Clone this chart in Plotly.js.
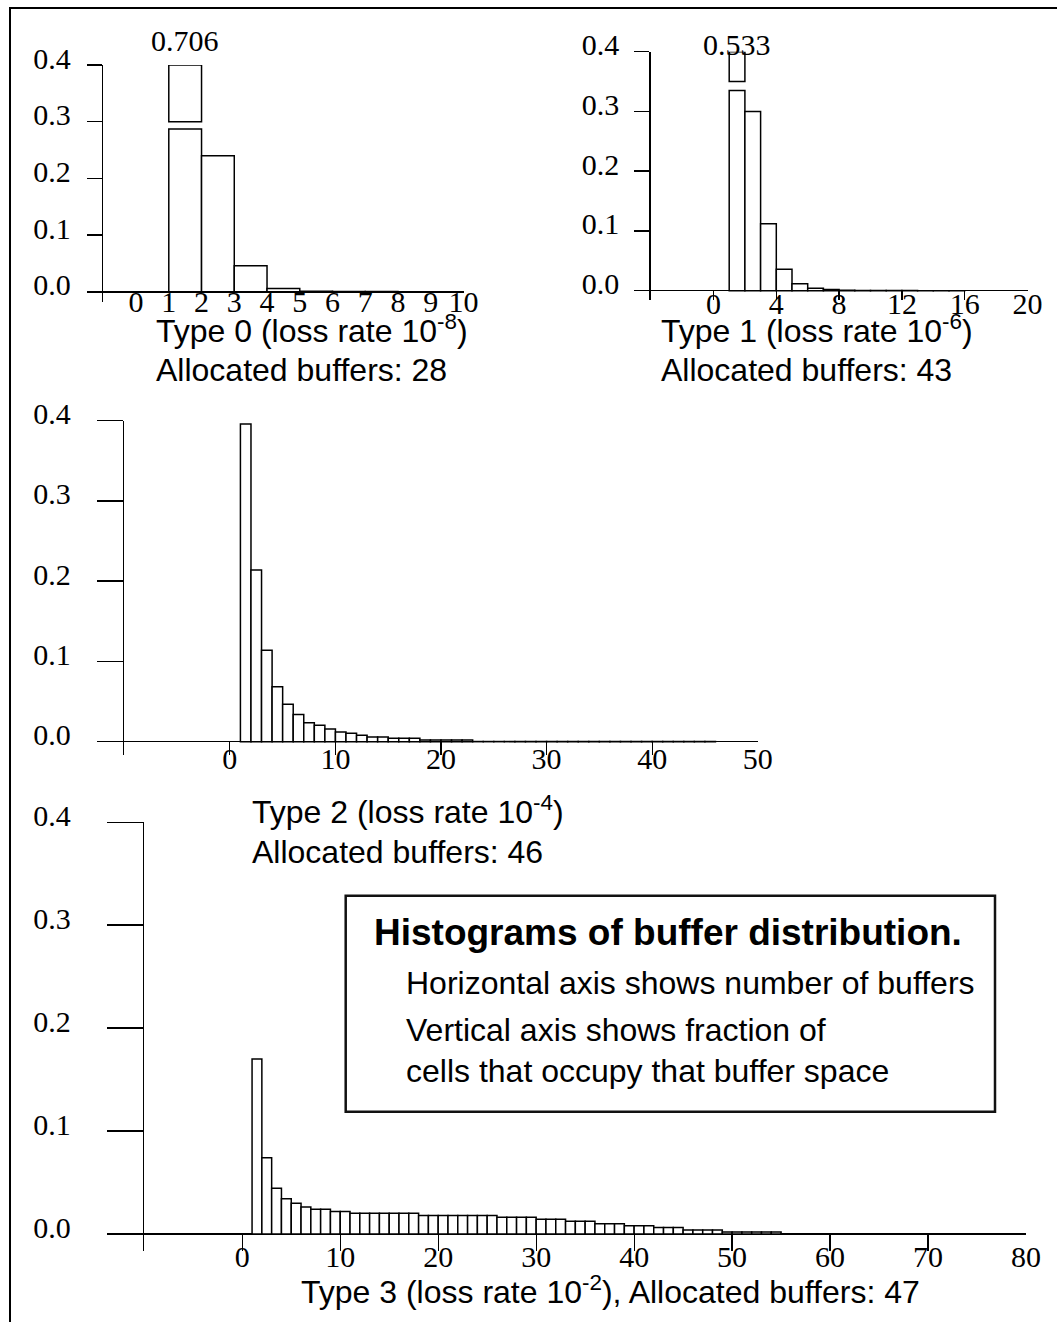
<!DOCTYPE html>
<html><head><meta charset="utf-8">
<script src="https://cdn.plot.ly/plotly-3.0.1.min.js"></script>
<style>html,body{margin:0;padding:0;background:#fff}#chart{width:1057px;height:1322px}</style>
</head><body><div id="chart"></div>
<script>
// ---------------- data ----------------
const type0Buffers = [1, 2, 3, 4, 5, 6, 7, 8, 9];
const type0Fraction = [0.706, 0.240, 0.046, 0.006, 0.001, 0.0005, 0.0003, 0.0001, 0.0001];

const type1Buffers = [1, 2, 3, 4, 5, 6, 7, 8, 9, 10, 11, 12, 13, 14, 15];
const type1Fraction = [0.533, 0.300, 0.112, 0.036, 0.0117, 0.004, 0.002, 0.0008, 0.0005, 0.0003, 0.0002, 0.0002, 0.0001, 0.0001, 0.0001];

const type2Buffers = [1, 2, 3, 4, 5, 6, 7, 8, 9, 10, 11, 12, 13, 14, 15, 16, 17, 18, 19, 20, 21, 22, 23, 24, 25, 26, 27, 28, 29, 30, 31, 32, 33, 34, 35, 36, 37, 38, 39, 40, 41, 42, 43, 44, 45];
const type2Fraction = [0.396, 0.214, 0.114, 0.0685, 0.0466, 0.034, 0.0237, 0.0204, 0.0158, 0.0121, 0.0104, 0.008, 0.0059, 0.0059, 0.0042, 0.0042, 0.0042, 0.002, 0.002, 0.002, 0.002, 0.002, 0.0002, 0.0002, 0.0002, 0.0002, 0.0002, 0.0002, 0.0002, 0.0002, 0.0002, 0.0002, 0.0002, 0.0002, 0.0002, 0.0002, 0.0002, 0.0002, 0.0002, 0.0002, 0.0002, 0.0002, 0.0002, 0.0002, 0.0002];

const type3Buffers = [1, 2, 3, 4, 5, 6, 7, 8, 9, 10, 11, 12, 13, 14, 15, 16, 17, 18, 19, 20, 21, 22, 23, 24, 25, 26, 27, 28, 29, 30, 31, 32, 33, 34, 35, 36, 37, 38, 39, 40, 41, 42, 43, 44, 45, 46, 47, 48, 49, 50, 51, 52, 53, 54, 55, 56, 57, 58, 59, 60, 61, 62, 63, 64, 65, 66, 67, 68, 69, 70, 71, 72];
const type3Fraction = [0.170, 0.0742, 0.0444, 0.0343, 0.0298, 0.0262, 0.024, 0.024, 0.022, 0.022,
  0.0201, 0.0201, 0.0201, 0.0201, 0.0201, 0.0201, 0.0201,
  0.0181, 0.0181, 0.0181, 0.0181, 0.0181, 0.0181, 0.0181, 0.0181,
  0.0162, 0.0162, 0.0162, 0.0162,
  0.0143, 0.0143, 0.0143,
  0.0125, 0.0125, 0.0125,
  0.010, 0.010, 0.010,
  0.0081, 0.0081, 0.0081,
  0.0063, 0.0063, 0.0063,
  0.004, 0.004, 0.004, 0.004,
  0.0019, 0.0019, 0.0019, 0.0019, 0.0019, 0.0019,
  0.0003, 0.0003, 0.0003, 0.0003, 0.0003, 0.0003, 0.0003, 0.0003, 0.0003, 0.0003, 0.0003, 0.0003, 0.0003, 0.0003, 0.0003, 0.0003, 0.0003, 0.0003];

const type0Ticks = [0, 1, 2, 3, 4, 5, 6, 7, 8, 9, 10];
const type1Ticks = [0, 4, 8, 12, 16, 20];
const type2Ticks = [0, 10, 20, 30, 40, 50];
const type3Ticks = [0, 10, 20, 30, 40, 50, 60, 70, 80];
const yTicks = [0, 0.1, 0.2, 0.3, 0.4];
const yTickLabels = ["0.0", "0.1", "0.2", "0.3", "0.4"];

const captionType0 = ["Type 0 (loss rate 10<sup>-8</sup>)", "Allocated buffers: 28"];
const captionType1 = ["Type 1 (loss rate 10<sup>-6</sup>)", "Allocated buffers: 43"];
const captionType2 = ["Type 2 (loss rate 10<sup>-4</sup>)", "Allocated buffers: 46"];
const captionType3 = ["Type 3 (loss rate 10<sup>-2</sup>), Allocated buffers: 47"];
const legendTitle = "Histograms of buffer distribution.";
const legendLines = ["Horizontal axis shows number of buffers", "Vertical axis shows fraction of", "cells that occupy that buffer space"];

// ---------------- layout helpers ----------------
const W = 1057, H = 1322;
const px = v => v / W;
const py = v => 1 - v / H;
const SERIF = "Liberation Serif, Times New Roman, serif";
const SANS = "Liberation Sans, Arial, sans-serif";
const YMAX = 0.4;

const panels = [
  {buf: type0Buffers, frac: type0Fraction, ticks: type0Ticks, xr: [-1, 10], xd: [103.3, 463.5], ymin: -0.018, yd: [65, 302],
   ytick: 15, ystand: 10, xticks: '', xticklen: 0, xstand: -21, brk: [0.287, 0.3], lblShift: 7},
  {buf: type1Buffers, frac: type1Fraction, ticks: type1Ticks, xr: [-4, 20], xd: [650.7, 1027.5], ymin: -0.016, yd: [51.7, 300.3],
   ytick: 15, ystand: 9, xticks: 'inside', xticklen: 10, xstand: -17, brk: [0.335, 0.35], lblShift: -10},
  {buf: type2Buffers, frac: type2Fraction, ticks: type2Ticks, xr: [-10, 50], xd: [124.3, 757.7], ymin: -0.0166, yd: [420.7, 755],
   ytick: 26, ystand: 20, xticks: 'inside', xticklen: 13, xstand: -17, brk: [0.38, 0.39], lblShift: 0},
  {buf: type3Buffers, frac: type3Fraction, ticks: type3Ticks, xr: [-10, 80], xd: [144.3, 1026], ymin: -0.0162, yd: [822.3, 1250.7],
   ytick: 36, ystand: 30, xticks: 'inside', xticklen: 16, xstand: -15, brk: [0.38, 0.39], lblShift: 0}
];

const traces = [];
const annotations = [];
const layout = {
  width: W, height: H, margin: {l: 0, r: 0, t: 0, b: 0},
  paper_bgcolor: '#fff', plot_bgcolor: 'rgba(0,0,0,0)',
  showlegend: false, barmode: 'overlay',
  font: {family: SERIF, color: '#000'},
  shapes: [], annotations: annotations
};

panels.forEach((p, i) => {
  const n = i === 0 ? '' : String(i + 1);
  const xa = 'x' + n, ya = 'y' + n;
  layout['xaxis' + n] = {
    domain: [px(p.xd[0]), px(p.xd[1])], range: p.xr, anchor: ya,
    tickmode: 'array', tickvals: p.ticks, ticktext: p.ticks.map(String), tickangle: 0,
    ticks: p.xticks, ticklen: p.xticklen, tickwidth: 1.2, tickcolor: '#000',
    showline: false, zeroline: false, showgrid: false, fixedrange: true,
    tickfont: {family: SERIF, size: 30, color: '#000'}, ticklabelstandoff: p.xstand
  };
  layout['yaxis' + n] = {
    domain: [py(p.yd[1]), py(p.yd[0])], range: [p.ymin, YMAX], anchor: xa,
    tickmode: 'array', tickvals: yTicks, ticktext: yTickLabels,
    ticks: 'outside', ticklen: p.ytick, tickwidth: 1.5, tickcolor: '#000',
    showline: true, linecolor: '#000', linewidth: 1.5,
    zeroline: true, zerolinecolor: '#000', zerolinewidth: 1.5, showgrid: false, fixedrange: true,
    tickfont: {family: SERIF, size: 30, color: '#000'}, ticklabelstandoff: p.ystand, ticklabelshift: -7
  };
  const style = {color: '#fff', line: {color: '#000', width: 1.5}};
  // main bars (values above axis top are drawn broken)
  traces.push({
    type: 'bar', x: p.buf, y: p.frac.map(v => v > YMAX ? p.brk[0] : v),
    offset: 0, width: 1, marker: style, xaxis: xa, yaxis: ya, hoverinfo: 'skip'
  });
  const bx = [], bb = [], bh = [];
  p.frac.forEach((v, k) => {
    if (v > YMAX) {
      bx.push(p.buf[k]); bb.push(p.brk[1]); bh.push(YMAX - p.brk[1]);
      annotations.push({
        xref: xa, yref: ya, x: p.buf[k] + 0.5, y: YMAX, yanchor: 'bottom', xanchor: 'center',
        yshift: p.lblShift, showarrow: false, borderpad: 0,
        text: v.toFixed(3), font: {family: SERIF, size: 30, color: '#000'}
      });
    }
  });
  if (bx.length) {
    traces.push({
      type: 'bar', x: bx, y: bh, base: bb, offset: 0, width: 1, marker: style,
      xaxis: xa, yaxis: ya, hoverinfo: 'skip', cliponaxis: false
    });
  }
});

function label(text, left, bottom, size) {
  annotations.push({
    xref: 'paper', yref: 'paper', x: px(left), y: py(bottom), xanchor: 'left', yanchor: 'bottom',
    showarrow: false, borderpad: 0, align: 'left', text: text,
    font: {family: SANS, size: size, color: '#000'}
  });
}
label(captionType0[0], 155, 350.5, 32);
label(captionType0[1], 155, 388.9, 32);
label(captionType1[0], 660, 350.5, 32);
label(captionType1[1], 660, 388.9, 32);
label(captionType2[0], 250.7, 830.7, 32);
label(captionType2[1], 250.7, 870.5, 32);
label(captionType3[0], 300, 1310.5, 32);
label('<b>' + legendTitle + '</b>', 373, 953.5, 37);
label(legendLines[0], 405, 1002.2, 32);
label(legendLines[1], 405, 1049.2, 32);
label(legendLines[2], 405, 1089.9, 32);

// outer frame and explanation box
layout.shapes.push({type: 'rect', xref: 'paper', yref: 'paper', x0: px(10), x1: 1.02, y0: -0.02, y1: py(8),
  line: {color: '#000', width: 2}, fillcolor: 'rgba(0,0,0,0)'});
layout.shapes.push({type: 'rect', xref: 'paper', yref: 'paper', x0: px(345.7), x1: px(995), y0: py(1111.7), y1: py(895.7),
  line: {color: '#111', width: 2.5}, fillcolor: 'rgba(0,0,0,0)'});

Plotly.newPlot('chart', traces, layout, {staticPlot: true, displayModeBar: false});
</script></body></html>
